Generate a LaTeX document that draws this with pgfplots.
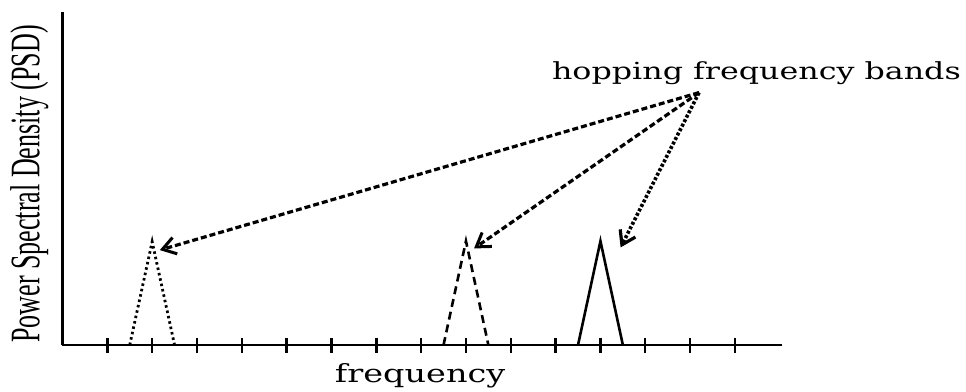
\documentclass[border=0pt]{standalone}
\usepackage{fontspec}
\setmainfont{Liberation Serif}
\newfontfamily\slabfont{DejaVu Serif}
\usepackage{pgfplots}
\pgfplotsset{compat=1.18}
\usetikzlibrary{arrows.meta}

\begin{document}
\begin{tikzpicture}
\useasboundingbox (0,0) rectangle (966pt,391pt);
\begin{axis}[
  at={(62.5pt,46pt)}, anchor=south west,
  scale only axis,
  width=719.5pt, height=333pt,
  xmin=0, xmax=16.05, ymin=0, ymax=10,
  axis x line=bottom, axis y line=left,
  axis line style={-, line width=2.4pt, black},
  xtick={1,...,15}, xticklabels={},
  ytick=\empty,
  tick align=center,
  major tick length=15pt,
  tick style={line width=2.4pt, black},
  clip=false,
  xlabel={\scalebox{1.34}[1]{\fontsize{25pt}{25pt}\slabfont frequency}},
  xlabel style={at={([yshift=-37pt]axis description cs:0.497,0)}, anchor=base},
  ylabel={\scalebox{0.62}[1]{\fontsize{42pt}{42pt}\selectfont Power Spectral Density (PSD)}},
  ylabel style={at={([xshift=-23pt]axis description cs:0,0.4835)}, anchor=base},
]
% spectral peaks of three hop positions
\addplot[black, line width=2.8pt, dash pattern=on 2.5pt off 3pt] coordinates {(1.5,0) (2,3.1) (2.5,0)};
\addplot[black, line width=2.6pt, dash pattern=on 8pt off 5pt] coordinates {(8.5,0) (9,3.12) (9.5,0)};
\addplot[black, line width=2.6pt] coordinates {(11.5,0) (12,3.12) (12.5,0)};

% pointers from the annotation to each band
\addplot[black, line width=3.2pt, dash pattern=on 6pt off 3pt,
  -{Straight Barb[length=13pt,width=17pt,line width=3pt]}]
  coordinates {(14.2,7.58) (2.17,2.85)};
\addplot[black, line width=3.2pt, dash pattern=on 6pt off 3pt,
  -{Straight Barb[length=13pt,width=17pt,line width=3pt]}]
  coordinates {(14.2,7.58) (9.18,2.9)};
\addplot[black, line width=3.6pt, dash pattern=on 3pt off 2pt,
  -{Straight Barb[length=13pt,width=17pt,line width=3.2pt]}]
  coordinates {(14.2,7.58) (12.45,2.93)};

\node[anchor=base, inner sep=0pt] at (axis cs:15.48,7.96)
  {\scalebox{1.35}[1]{\fontsize{23.5pt}{23.5pt}\slabfont hopping frequency bands}};
\end{axis}
\end{tikzpicture}
\end{document}
